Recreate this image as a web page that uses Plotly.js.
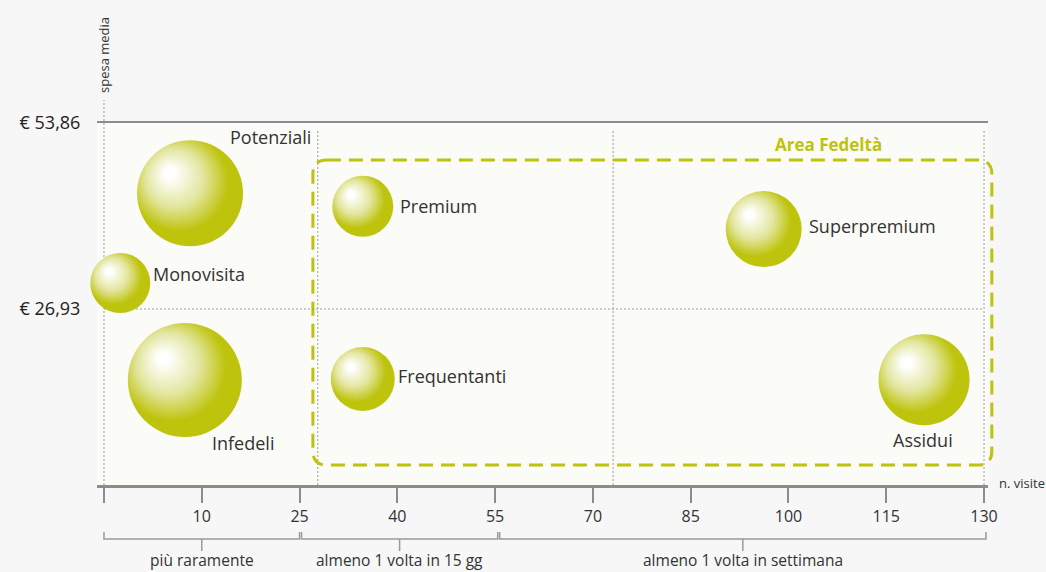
<!DOCTYPE html>
<html>
<head>
<meta charset="utf-8">
<script src="https://cdn.plot.ly/plotly-3.0.1.min.js"></script>
<style>
  html, body { margin: 0; padding: 0; background: #f7f7f7; }
  #chart { width: 1046px; height: 572px; }
</style>
</head>
<body>
<div id="chart"></div>
<script>
// ---- data ----
const segmenti = ['Potenziali', 'Monovisita', 'Infedeli', 'Premium', 'Frequentanti', 'Superpremium', 'Assidui'];
const visite   = [8.2, -2.5, 7.4, 34.7, 34.7, 96.2, 120.8];          // n. visite
const spesa    = [43.7, 30.7, 16.65, 41.8, 16.8, 38.5, 16.7];        // spesa media (€)
const peso     = [106, 60, 114, 61, 64, 76, 91];                      // dimensione bolla

const xTickVals = [-5, 10, 25, 40, 55, 70, 85, 100, 115, 130];
const xTickText = ['', '10', '25', '40', '55', '70', '85', '100', '115', '130'];
const yTickVals = [26.93, 53.86];
const yTickText = ['€ 26,93', '€ 53,86'];

const fasce      = ['più raramente', 'almeno 1 volta in 15 gg', 'almeno 1 volta in settimana'];
const fasceRange = [[-5, 25], [25.3, 55.4], [55.7, 130.3]];

const divisoriX = [-5, 27.8, 73.1, 130];   // linee tratteggiate verticali
const divisorioY = 26.93;                  // linea tratteggiata orizzontale

// ---- style ----
const OLIVE = '#bec30c';
const GREY = '#8c8c8c';
const FONT = 'Open Sans, Noto Sans, sans-serif';
const xRange = [-6.07, 130.61];
const yRange = [1.45, 53.86];
const areaFedelta = { x0: 27.05, x1: 131.2, y0: 4.34, y1: 48.5, rpx: 14 };
const labelOffsets = [
  { xs: 38, ys: 56, xa: 'left' },
  { xs: 31, ys: 9, xa: 'left' },
  { xs: 25, ys: -63, xa: 'left' },
  { xs: 35, ys: 0, xa: 'left' },
  { xs: 33, ys: 3, xa: 'left' },
  { xs: 43, ys: 3, xa: 'left' },
  { xs: -1, ys: -60, xa: 'center' }
];

const M = { l: 97, r: 58, t: 123, b: 87 };
const W = 1046, H = 572;
const plotW = W - M.l - M.r, plotH = H - M.t - M.b;
const xp = v => (v - xRange[0]) / (xRange[1] - xRange[0]);
const yp = v => (v - yRange[0]) / (yRange[1] - yRange[0]);

const shapes = [];
// dotted dividers
divisoriX.forEach((x, i) => {
  shapes.push({
    type: 'line', xref: 'x', yref: 'paper', x0: x, x1: x,
    y0: 0, y1: i === 0 ? 1.064 : 0.98,
    line: { color: '#9a9a9a', width: 1, dash: '2px,2px' }, layer: 'below'
  });
});
shapes.push({
  type: 'line', xref: 'x', yref: 'y', x0: divisoriX[0], x1: divisoriX[divisoriX.length - 1],
  y0: divisorioY, y1: divisorioY,
  line: { color: '#9a9a9a', width: 1, dash: '2px,2px' }, layer: 'below'
});
// rounded dashed "Area Fedeltà"
(function () {
  const a = areaFedelta;
  const X0 = xp(a.x0), X1 = xp(a.x1), Y0 = yp(a.y0), Y1 = yp(a.y1);
  const rx = a.rpx / plotW, ry = a.rpx / plotH;
  const p = `M ${X0 + rx},${Y1} L ${X1 - rx},${Y1} Q ${X1},${Y1} ${X1},${Y1 - ry} ` +
            `L ${X1},${Y0 + ry} Q ${X1},${Y0} ${X1 - rx},${Y0} L ${X0 + rx},${Y0} ` +
            `Q ${X0},${Y0} ${X0},${Y0 + ry} L ${X0},${Y1 - ry} Q ${X0},${Y1} ${X0 + rx},${Y1} Z`;
  shapes.push({ type: 'path', xref: 'paper', yref: 'paper', path: p,
    line: { color: OLIVE, width: 3, dash: '14px,8px' }, layer: 'below' });
})();
// brackets below axis
const bY = -(539 - (H - M.b)) / plotH;
const bUp = -(532 - (H - M.b)) / plotH;
const bDown = -(551 - (H - M.b)) / plotH;
fasceRange.forEach(r => {
  const c = (r[0] + r[1]) / 2;
  shapes.push({ type: 'path', xref: 'x', yref: 'paper',
    path: `M ${r[0]},${bUp} L ${r[0]},${bY} L ${r[1]},${bY} L ${r[1]},${bUp} M ${c},${bY} L ${c},${bDown}`,
    line: { color: '#9a9a9a', width: 1.5 } });
});

const annotations = [];
segmenti.forEach((s, i) => {
  const o = labelOffsets[i];
  annotations.push({ x: visite[i], y: spesa[i], xref: 'x', yref: 'y', text: s, showarrow: false,
    xanchor: o.xa, yanchor: 'middle', xshift: o.xs, yshift: o.ys,
    font: { family: FONT, size: 18, color: '#333' } });
});
fasce.forEach((f, i) => {
  const r = fasceRange[i];
  annotations.push({ x: (r[0] + r[1]) / 2, xref: 'x', yref: 'paper', y: -(560 - (H - M.b)) / plotH,
    text: f, showarrow: false, xanchor: 'center', yanchor: 'middle',
    font: { family: FONT, size: 15.5, color: '#333' } });
});
annotations.push({ x: 106.1, y: 50.7, xref: 'x', yref: 'y', text: '<b>Area Fedeltà</b>', showarrow: false,
  xanchor: 'center', yanchor: 'middle', font: { family: FONT, size: 17, color: OLIVE } });
annotations.push({ x: -5, xref: 'x', yref: 'paper', y: (H - M.b - 55) / plotH, text: 'spesa media',
  textangle: -90, showarrow: false, xanchor: 'center', yanchor: 'middle',
  font: { family: FONT, size: 13, color: '#333' } });
annotations.push({ x: (997 - M.l) / plotW, xref: 'paper', yref: 'paper', y: 0.005, text: 'n. visite',
  showarrow: false, xanchor: 'left', yanchor: 'middle', font: { family: FONT, size: 13, color: '#333' } });

const trace = {
  type: 'scatter', mode: 'markers', x: visite, y: spesa, text: segmenti,
  cliponaxis: false,
  hovertemplate: '%{text}<extra></extra>',
  marker: {
    size: peso, sizemode: 'diameter', sizeref: 1, color: OLIVE, opacity: 1,
    line: { width: 0 },
    gradient: { type: 'radial', color: '#ffffff' }
  }
};

const layout = {
  width: W, height: H, margin: M,
  paper_bgcolor: '#f7f7f7', plot_bgcolor: '#fbfbf7',
  showlegend: false,
  font: { family: FONT, color: '#333' },
  xaxis: {
    range: xRange, tickmode: 'array', tickvals: xTickVals, ticktext: xTickText,
    showgrid: false, zeroline: false, showline: true, mirror: true,
    linecolor: GREY, linewidth: 2.5,
    ticks: 'outside', ticklen: 15, tickwidth: 2, tickcolor: GREY,
    tickfont: { family: FONT, size: 16, color: '#333' }
  },
  yaxis: {
    range: yRange, tickmode: 'array', tickvals: yTickVals, ticktext: yTickText,
    showgrid: false, zeroline: false, showline: false,
    ticks: 'outside', ticklen: 12, tickcolor: 'rgba(0,0,0,0)',
    tickfont: { family: FONT, size: 18, color: '#222' }
  },
  shapes: shapes,
  annotations: annotations
};

const gd = document.getElementById('chart');
Plotly.newPlot(gd, [trace], layout, { displayModeBar: false, staticPlot: true }).then(() => {
  const ns = 'http://www.w3.org/2000/svg';
  gd.querySelectorAll('radialGradient').forEach(g => {
    g.setAttribute('cx', '0.42'); g.setAttribute('cy', '0.42'); g.setAttribute('r', '0.6');
    g.setAttribute('fx', '0.3'); g.setAttribute('fy', '0.3');
    while (g.firstChild) g.removeChild(g.firstChild);
    [['0', '#ffffff'], ['0.08', '#ffffff'], ['0.45', '#e3e6a0'], ['0.78', OLIVE], ['1', OLIVE]].forEach(s => {
      const st = document.createElementNS(ns, 'stop');
      st.setAttribute('offset', s[0]); st.setAttribute('stop-color', s[1]);
      g.appendChild(st);
    });
  });
});
</script>
</body>
</html>
